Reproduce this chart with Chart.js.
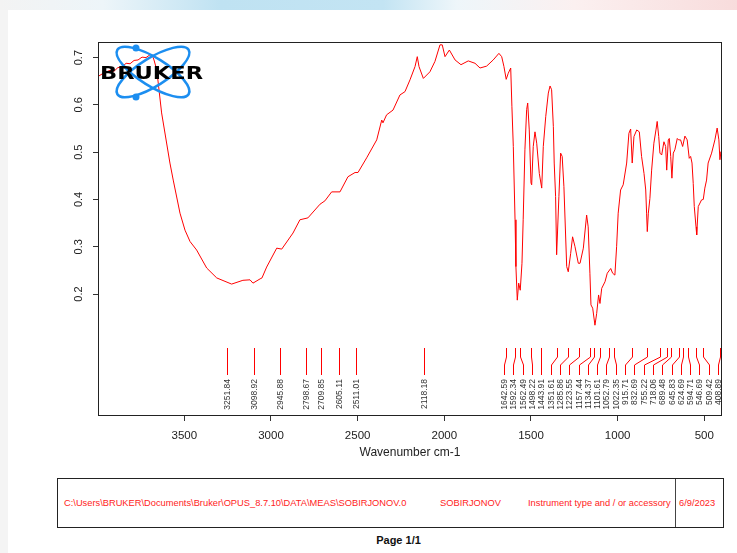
<!DOCTYPE html>
<html>
<head>
<meta charset="utf-8">
<script src="https://cdn.jsdelivr.net/npm/chart.js"></script>
<style>
body { margin: 0; width: 737px; height: 553px; overflow: hidden; background: #fff; position: relative; font-family: "Liberation Sans", Arial, sans-serif; }
#topband { position: absolute; left: 0; top: 0; width: 737px; height: 10px;
  background: linear-gradient(90deg, #f3f3f3 0%, #edf5f9 14%, #bfe2f2 30%, #c3e4f3 52%, #eef6fa 62%, #fbf0f0 78%, #f8dcdc 100%); }
#leftband { position: absolute; left: 0; top: 10px; width: 8px; height: 543px; background: #f4f4f4; }
#chart { position: absolute; left: 0; top: 0; }
#footer { position: absolute; left: 57px; top: 478px; width: 667px; height: 50px; border: 1px solid #222; box-sizing: border-box; }
#divider { position: absolute; left: 617px; top: 0; width: 1px; height: 48px; background: #444; }
.ft { position: absolute; top: 19px; font-size: 9.3px; color: #f22; white-space: nowrap; line-height: 11px; }
#page { position: absolute; top: 534px; left: 0; width: 797px; text-align: center; font-weight: bold; font-size: 11px; color: #111; }
</style>
</head>
<body>
<div id="topband"></div>
<div id="leftband"></div>
<canvas id="chart" width="737" height="470"></canvas>
<div id="footer">
  <div class="ft" style="left:6px">C:\Users\BRUKER\Documents\Bruker\OPUS_8.7.10\DATA\MEAS\SOBIRJONOV.0</div>
  <div class="ft" style="left:382px">SOBIRJONOV</div>
  <div class="ft" style="left:470px">Instrument type and / or accessory</div>
  <div id="divider"></div>
  <div class="ft" style="left:621px">6/9/2023</div>
</div>
<div id="page">Page 1/1</div>
<script>
// spectre
const wavenumbers = [
  3998, 3963, 3929, 3906, 3883, 3860, 3836, 3813, 3790, 3767, 3744, 3721, 3698, 3686, 3675, 3659,
  3631, 3583, 3564, 3525, 3496, 3467, 3429, 3371, 3313, 3227, 3162, 3121, 3104, 3063, 3052, 3025,
  2967, 2938, 2873, 2833, 2787, 2717, 2689, 2650, 2602, 2556, 2515, 2498, 2448, 2390, 2361, 2354,
  2333, 2296, 2256, 2227, 2198, 2169, 2156, 2146, 2121, 2083, 2054, 2025, 2012, 1996, 1971, 1938,
  1904, 1862, 1823, 1794, 1756, 1718, 1685, 1669, 1656, 1643, 1631, 1617, 1610, 1602, 1592, 1587,
  1579, 1571, 1562, 1552, 1545, 1535, 1525, 1519, 1510, 1500, 1496, 1487, 1477, 1467, 1452, 1438,
  1429, 1415, 1400, 1390, 1381, 1371, 1366, 1358, 1352, 1339, 1329, 1320, 1310, 1294, 1285, 1271,
  1260, 1246, 1227, 1217, 1198, 1179, 1170, 1160, 1154, 1144, 1131, 1121, 1110, 1102, 1092, 1073,
  1060, 1040, 1029, 1016, 1006, 997, 983, 968, 948, 935, 925, 916, 906, 890, 875, 862,
  848, 838, 833, 829, 823, 814, 804, 791, 779, 772, 763, 756, 746, 733, 723, 717,
  708, 702, 694, 687, 679, 670, 656, 648, 637, 625, 612, 599, 587, 579, 571, 564,
  558, 548, 544, 535, 516, 506, 497, 487, 478, 458, 439, 426, 416, 410, 404, 400
];
const absorbance = [
  0.660, 0.668, 0.673, 0.671, 0.679, 0.680, 0.688, 0.687, 0.694, 0.695, 0.701, 0.700, 0.706, 0.706, 0.695, 0.674,
  0.583, 0.477, 0.441, 0.371, 0.335, 0.311, 0.293, 0.255, 0.234, 0.221, 0.229, 0.230, 0.223, 0.232, 0.234, 0.257,
  0.297, 0.295, 0.329, 0.357, 0.361, 0.390, 0.397, 0.416, 0.416, 0.448, 0.457, 0.457, 0.488, 0.526, 0.568, 0.562,
  0.579, 0.589, 0.621, 0.628, 0.653, 0.681, 0.702, 0.681, 0.656, 0.670, 0.692, 0.727, 0.727, 0.702, 0.716, 0.695,
  0.685, 0.693, 0.688, 0.678, 0.682, 0.695, 0.709, 0.702, 0.681, 0.654, 0.667, 0.678, 0.596, 0.512, 0.357, 0.258,
  0.187, 0.223, 0.208, 0.265, 0.357, 0.505, 0.590, 0.604, 0.547, 0.435, 0.431, 0.512, 0.543, 0.519, 0.455, 0.424,
  0.512, 0.575, 0.625, 0.640, 0.632, 0.554, 0.477, 0.406, 0.283, 0.406, 0.498, 0.491, 0.427, 0.258, 0.247, 0.286,
  0.321, 0.300, 0.265, 0.265, 0.297, 0.367, 0.342, 0.244, 0.177, 0.170, 0.134, 0.159, 0.198, 0.180, 0.212, 0.226,
  0.244, 0.254, 0.244, 0.240, 0.300, 0.371, 0.420, 0.431, 0.477, 0.540, 0.549, 0.477, 0.533, 0.547, 0.543, 0.491,
  0.455, 0.420, 0.371, 0.332, 0.371, 0.402, 0.462, 0.519, 0.547, 0.565, 0.533, 0.498, 0.494, 0.522, 0.512, 0.462,
  0.526, 0.529, 0.491, 0.445, 0.498, 0.505, 0.529, 0.526, 0.526, 0.512, 0.534, 0.526, 0.487, 0.491, 0.477, 0.434,
  0.385, 0.342, 0.325, 0.385, 0.399, 0.400, 0.424, 0.441, 0.477, 0.498, 0.526, 0.551, 0.526, 0.484, 0.501, 0.491
];
const peakWn = [
  3251.84, 3098.92, 2945.88, 2798.67, 2709.85, 2605.11, 2511.01, 2118.18,
  1642.59, 1592.34, 1562.49, 1498.22, 1443.91, 1351.61, 1285.86, 1223.55,
  1157.44, 1134.37, 1101.61, 1052.79, 1022.35, 915.71, 832.69, 755.22,
  718.06, 689.48, 645.83, 624.69, 594.71, 546.69, 509.42, 408.89
];
const xTicks = [500, 1000, 1500, 2000, 2500, 3000, 3500];
const yTicks = [0.2, 0.3, 0.4, 0.5, 0.6, 0.7];
const xRange = [398, 3998];
const yRange = [-0.058, 0.733];

const fontFam = '"Liberation Sans", Arial, sans-serif';

const extras = {
  id: 'extras',
  afterDatasetsDraw(chart) {
    const ctx = chart.ctx;
    const a = chart.chartArea;
    const xs = chart.scales.x;
    ctx.save();

    // cadre
    ctx.strokeStyle = '#222';
    ctx.lineWidth = 1;
    ctx.strokeRect(a.left + 0.5, a.top + 0.5, a.right - a.left - 1, a.bottom - a.top - 1);

    // pics : traits + étiquettes écartées
    const px = peakWn.map(w => xs.getPixelForValue(w));
    const lx = px.slice();
    const gap = 9.3;
    for (let i = 1; i < lx.length; i++) lx[i] = Math.max(lx[i], lx[i - 1] + gap);
    lx[lx.length - 1] = Math.min(lx[lx.length - 1], a.right - 4);
    for (let i = lx.length - 2; i >= 0; i--) lx[i] = Math.min(lx[i], lx[i + 1] - gap);

    const y0 = a.bottom - 68, y1 = a.bottom - 59, y2 = a.bottom - 51, y3 = a.bottom - 41;
    ctx.strokeStyle = '#ff0000';
    ctx.beginPath();
    px.forEach((p, i) => {
      const x = Math.round(p) + 0.5, l = Math.round(lx[i]) + 0.5;
      ctx.moveTo(x, y0);
      if (Math.abs(x - l) < 1) {
        ctx.lineTo(x, y3);
      } else {
        ctx.lineTo(x, y1);
        ctx.lineTo(l, y2);
        ctx.lineTo(l, y3);
      }
    });
    ctx.stroke();

    ctx.fillStyle = '#333';
    ctx.font = '8.5px ' + fontFam;
    ctx.textAlign = 'right';
    ctx.textBaseline = 'middle';
    peakWn.forEach((w, i) => {
      ctx.save();
      ctx.translate(Math.round(lx[i]) + 0.5, a.bottom - 37);
      ctx.rotate(-Math.PI / 2);
      ctx.fillText(w.toFixed(2), 0, 0);
      ctx.restore();
    });

    // logo
    ctx.strokeStyle = '#1c8ef0';
    ctx.fillStyle = '#1c8ef0';
    ctx.lineWidth = 2.5;
    [32, -32].forEach(deg => {
      ctx.beginPath();
      ctx.ellipse(153, 72, 42, 14, deg * Math.PI / 180, 0, 2 * Math.PI);
      ctx.stroke();
    });
    [[136, 48], [136, 97]].forEach(([x, y]) => {
      ctx.beginPath();
      ctx.arc(x, y, 3.5, 0, 2 * Math.PI);
      ctx.fill();
    });
    ctx.font = 'bold 17px "DejaVu Sans"';
    ctx.textAlign = 'left';
    ctx.textBaseline = 'alphabetic';
    const tw = ctx.measureText('BRUKER').width;
    ctx.translate(100, 78.5);
    ctx.scale(103 / tw, 1);
    ctx.fillStyle = '#000';
    ctx.fillText('BRUKER', 0, 0);
    ctx.restore();
  },
  afterDraw(chart) {
    const ctx = chart.ctx;
    const ys = chart.scales.y;
    ctx.save();
    ctx.fillStyle = '#222';
    ctx.font = '11px ' + fontFam;
    ctx.textAlign = 'center';
    ctx.textBaseline = 'middle';
    yTicks.forEach(v => {
      ctx.save();
      ctx.translate(79, ys.getPixelForValue(v));
      ctx.rotate(-Math.PI / 2);
      ctx.fillText(String(v), 0, 0);
      ctx.restore();
    });
    ctx.restore();
  }
};

new Chart(document.getElementById('chart'), {
  type: 'line',
  data: {
    datasets: [{
      data: wavenumbers.map((w, i) => ({ x: w, y: absorbance[i] })),
      borderColor: '#ff0000',
      borderWidth: 1,
      pointRadius: 0,
      tension: 0,
      fill: false
    }]
  },
  options: {
    responsive: false,
    animation: false,
    devicePixelRatio: 1,
    layout: { padding: { top: 42, right: 15, left: 0, bottom: 0 } },
    plugins: { legend: { display: false }, tooltip: { enabled: false } },
    scales: {
      x: {
        type: 'linear',
        reverse: true,
        min: xRange[0],
        max: xRange[1],
        afterBuildTicks: s => { s.ticks = xTicks.map(v => ({ value: v })); },
        afterFit: s => { s.height = 54; },
        grid: { drawOnChartArea: false, tickLength: 5, color: '#333' },
        border: { display: false },
        ticks: { color: '#222', font: { family: fontFam, size: 11.5 }, padding: 8, maxRotation: 0, autoSkip: false,
          callback: v => String(v) },
        title: { display: true, text: 'Wavenumber cm-1', color: '#222', font: { family: fontFam, size: 12 }, padding: { top: 0, bottom: 10 } }
      },
      y: {
        min: yRange[0],
        max: yRange[1],
        afterBuildTicks: s => { s.ticks = yTicks.map(v => ({ value: v })); },
        afterFit: s => { s.width = 98; },
        grid: { drawOnChartArea: false, tickLength: 5, color: '#333' },
        border: { display: false },
        ticks: { display: false }
      }
    }
  },
  plugins: [extras]
});
</script>
</body>
</html>
